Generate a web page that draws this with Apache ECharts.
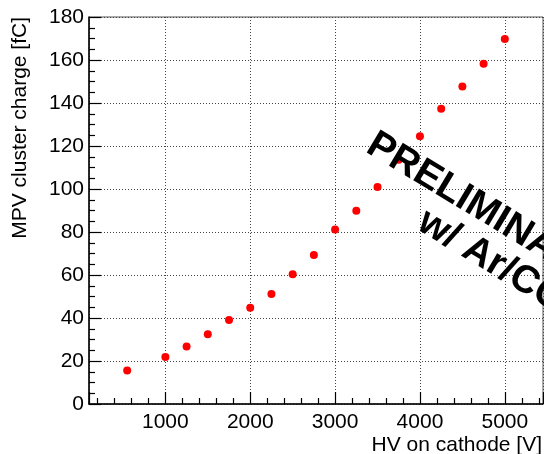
<!DOCTYPE html>
<html>
<head>
<meta charset="utf-8">
<script src="https://cdn.jsdelivr.net/npm/echarts@6/dist/echarts.min.js"></script>
<style>
    html, body { margin: 0; padding: 0; background: #fff; }
    #chart { width: 544px; height: 454px; }
</style>
</head>
<body>
<div id="chart"></div>
<script>
// HV on cathode [V]
const hvValues = [550, 1000, 1250, 1500, 1750, 2000, 2250, 2500, 2750, 3000,
    3250, 3500, 3750, 4000, 4250, 4500, 4750, 5000];
// MPV cluster charge [fC]
const mpvValues = [15.6, 21.9, 26.7, 32.4, 39.1, 44.8, 51.2, 60.3, 69.3, 81.2,
    89.9, 100.9, 113.6, 124.5, 137.3, 147.7, 158.3, 169.8];

const xTitle = "HV on cathode [V]";
const yTitle = "MPV cluster charge [fC]";
const stampLines = ["PRELIMINARY", "w/ Ar/CO\u2082"];

const FONT = '"Liberation Sans", Arial, Helvetica, sans-serif';
const axisColor = "#000";

const points = hvValues.map((v, i) => [v, mpvValues[i]]);

function gridLine() {
    return {
        show: true,
        lineStyle: { color: "#444", width: 1, type: [1, 2] }
    }
}

const stampAngle = -31 * Math.PI / 180;

const chart = echarts.init(document.getElementById("chart"));
chart.setOption({
    animation: false,
    backgroundColor: "#fff",
    grid: {
        left: 89,
        right: 1,
        top: 17,
        bottom: 50,
        show: true,
        borderColor: "#555",
        borderWidth: 1,
        backgroundColor: "transparent"
    },
    xAxis: {
        type: "value",
        min: 100,
        max: 5450,
        splitNumber: 5,
        axisLine: { lineStyle: { color: axisColor, width: 1.5 } },
        axisTick: { inside: true, length: 12, lineStyle: { color: axisColor, width: 1.2 } },
        minorTick: { show: true, splitNumber: 5, length: 6, lineStyle: { color: axisColor, width: 1.2 } },
        axisLabel: {
            color: axisColor,
            fontSize: 21,
            fontFamily: FONT,
            margin: 8,
            showMinLabel: false,
            showMaxLabel: false,
            formatter: (v) => String(v)
        },
        splitLine: gridLine()
    },
    yAxis: {
        type: "value",
        min: 0,
        max: 180,
        interval: 20,
        axisLine: { show: true, lineStyle: { color: axisColor, width: 1.5 } },
        axisTick: { show: true, inside: true, length: 12, lineStyle: { color: axisColor, width: 1.2 } },
        minorTick: { show: true, splitNumber: 4, length: 6, lineStyle: { color: axisColor, width: 1.2 } },
        axisLabel: {
            color: axisColor,
            fontSize: 21,
            fontFamily: FONT,
            margin: 5
        },
        splitLine: gridLine()
    },
    series: [{
        type: "scatter",
        data: points,
        symbol: "circle",
        symbolSize: 8,
        itemStyle: { color: "#ff0000", opacity: 1 },
        z: 3
    }],
    graphic: [
        {
            type: "text",
            x: 542,
            y: 435,
            style: {
                text: xTitle,
                font: "21px " + FONT,
                fill: "#000",
                align: "right",
                verticalAlign: "top",
                textAlign: "right",
                textVerticalAlign: "top"
            }
        },
        {
            type: "text",
            x: 20,
            y: 17,
            rotation: Math.PI / 2,
            style: {
                text: yTitle,
                font: "21px " + FONT,
                fill: "#000",
                align: "right",
                verticalAlign: "middle",
                textAlign: "right",
                textVerticalAlign: "middle"
            }
        },
        {
            type: "text",
            x: 370,
            y: 142,
            rotation: stampAngle,
            z: 10,
            style: {
                text: stampLines[0],
                font: "bold 39px " + FONT,
                fill: "#000",
                align: "left",
                verticalAlign: "middle",
                textAlign: "left",
                textVerticalAlign: "middle"
            }
        },
        {
            type: "text",
            x: 421,
            y: 219,
            rotation: stampAngle,
            z: 10,
            style: {
                text: stampLines[1],
                font: "bold 39px " + FONT,
                fill: "#000",
                align: "left",
                verticalAlign: "middle",
                textAlign: "left",
                textVerticalAlign: "middle"
            }
        }
    ]
});
</script>
</body>
</html>
